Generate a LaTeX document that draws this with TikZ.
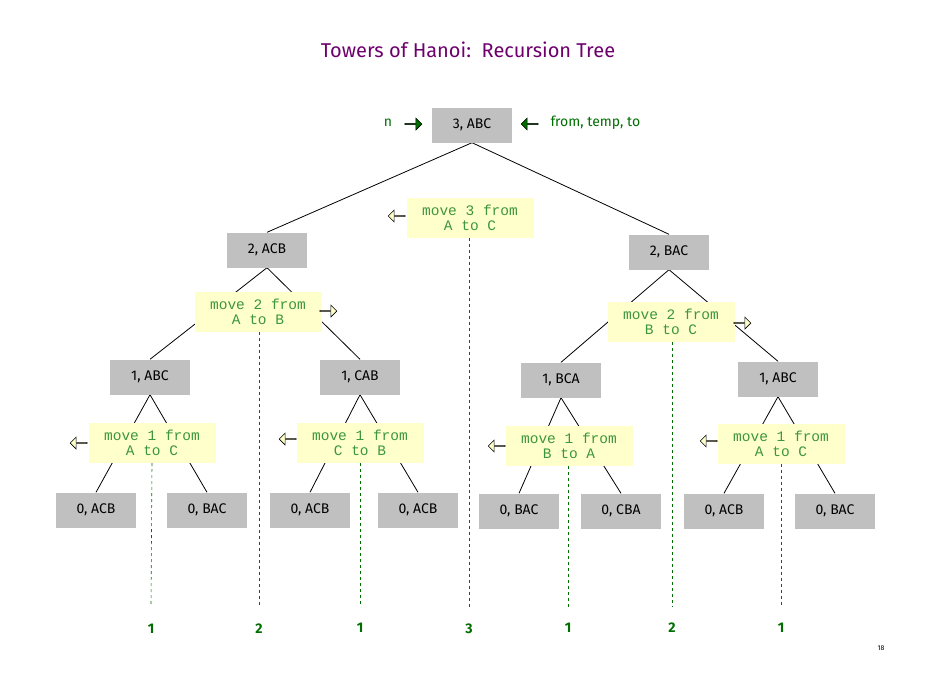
\documentclass[tikz,border=0pt]{standalone}
\usepackage{fontspec}
\setmainfont{Fira Sans}
\newfontfamily\monof{Liberation Mono}
\usetikzlibrary{shapes.arrows}
\pgfdeclarelayer{bg}
\pgfsetlayers{bg,main}
\definecolor{boxgray}{RGB}{192,192,192}
\definecolor{movey}{RGB}{255,255,204}
\definecolor{dgreen}{RGB}{0,110,0}
\definecolor{mgreen}{RGB}{60,150,60}
\definecolor{ttl}{RGB}{110,0,110}
\tikzset{
  cbox/.style={fill=boxgray,minimum width=80pt,minimum height=35pt,inner sep=0pt,font=\fontsize{14}{16}\selectfont},
  mbox/.style={fill=movey,minimum width=127pt,minimum height=40pt,inner sep=0pt,align=center,text=mgreen,font=\monof\fontsize{14.5}{15}\selectfont},
  edge/.style={draw=black,line width=0.8pt},
  dline/.style={draw=dgreen,dashed,line width=0.6pt},
  num/.style={text=dgreen,font=\bfseries\fontsize{14}{16}\selectfont},
  garr/.style={single arrow,draw=black,fill=dgreen,minimum height=17pt,minimum width=12pt,single arrow head extend=2.5pt,inner sep=0pt,line width=0.6pt},
  yarr/.style={single arrow,draw=black,fill=movey,minimum height=17pt,minimum width=12pt,single arrow head extend=2.5pt,inner sep=0pt,line width=0.6pt},
}
\begin{document}
\begin{tikzpicture}[x=1pt,y=-1pt]
\useasboundingbox (0,0) rectangle (942,694);
\node[text=ttl,font=\fontsize{20}{24}\selectfont] (title) at (468,50) {Towers of Hanoi:\ \ Recursion Tree};
\node[cbox] (r) at (472,125) {3, ABC};
\node[text=dgreen,font=\fontsize{14}{16}\selectfont] (n) at (388,123) {n};
\node[garr] (na) at (413,124) {};
\node[garr,shape border rotate=180] (fa) at (530,124) {};
\node[text=dgreen,font=\fontsize{14}{16}\selectfont,anchor=west] (ft) at (547,123) {from, temp, to};
\node[cbox] (a) at (267,250) {2, ACB};
\node[cbox] (b) at (669,252) {2, BAC};
\node[mbox] (m3) at (470,218) {move 3 from\\A to C};
\node[yarr,shape border rotate=180] (m3a) at (397,216) {};
\node[mbox] (m2l) at (258,312) {move 2 from\\A to B};
\node[yarr] (m2la) at (328,311) {};
\node[mbox] (m2r) at (671,322) {move 2 from\\B to C};
\node[yarr] (m2ra) at (742,323) {};
\node[cbox] (aa) at (150,377) {1, ABC};
\node[cbox] (ab) at (360,377) {1, CAB};
\node[cbox] (ba) at (561,380) {1, BCA};
\node[cbox] (bb) at (778,379) {1, ABC};
\node[mbox] (m1a) at (152,443) {move 1 from\\A to C};
\node[yarr,shape border rotate=180] (m1aa) at (79,443) {};
\node[mbox] (m1b) at (360,443) {move 1 from\\C to B};
\node[yarr,shape border rotate=180] (m1ba) at (288,439) {};
\node[mbox] (m1c) at (569,446) {move 1 from\\B to A};
\node[yarr,shape border rotate=180] (m1ca) at (497,446) {};
\node[mbox] (m1d) at (781,444) {move 1 from\\A to C};
\node[yarr,shape border rotate=180] (m1da) at (709,441) {};
\node[cbox] (l1) at (96,510) {0, ACB};
\node[cbox] (l2) at (207,510) {0, BAC};
\node[cbox] (l3) at (310,510) {0, ACB};
\node[cbox] (l4) at (418,510) {0, ACB};
\node[cbox] (l5) at (519,511) {0, BAC};
\node[cbox] (l6) at (621,511) {0, CBA};
\node[cbox] (l7) at (724,511) {0, ACB};
\node[cbox] (l8) at (835,511) {0, BAC};
\node[num] (n1) at (151,629) {1};
\node[num] (n2) at (259,629) {2};
\node[num] (n3) at (360,628) {1};
\node[num] (n4) at (469,629) {3};
\node[num] (n5) at (568,628) {1};
\node[num] (n6) at (672,628) {2};
\node[num] (n7) at (781,628) {1};
\node[font=\fontsize{7}{8}\selectfont] (pg) at (881,648) {18};
\coordinate (e1) at (151,607);
\coordinate (e2) at (259,607);
\coordinate (e3) at (360,607);
\coordinate (e4) at (469,607);
\coordinate (e5) at (568,607);
\coordinate (e6) at (672,607);
\coordinate (e7) at (781,607);
\begin{pgfonlayer}{bg}
\draw[edge] (r.south) -- (a.north);
\draw[edge] (r.south) -- (b.north);
\draw[edge] (a.south) -- (aa.north);
\draw[edge] (a.south) -- (ab.north);
\draw[edge] (b.south) -- (ba.north);
\draw[edge] (b.south) -- (bb.north);
\draw[edge] (aa.south) -- (l1.north);
\draw[edge] (aa.south) -- (l2.north);
\draw[edge] (ab.south) -- (l3.north);
\draw[edge] (ab.south) -- (l4.north);
\draw[edge] (ba.south) -- (l5.north);
\draw[edge] (ba.south) -- (l6.north);
\draw[edge] (bb.south) -- (l7.north);
\draw[edge] (bb.south) -- (l8.north);
\end{pgfonlayer}
\draw[dline] (m1a.south) -- (e1);
\draw[dline] (m2l.south -| e2) -- (e2);
\draw[dline] (m1b.south) -- (e3);
\draw[dline] (m3.south -| e4) -- (e4);
\draw[dline] (m1c.south -| e5) -- (e5);
\draw[dline] (m2r.south -| e6) -- (e6);
\draw[dline] (m1d.south) -- (e7);
\end{tikzpicture}
\end{document}
